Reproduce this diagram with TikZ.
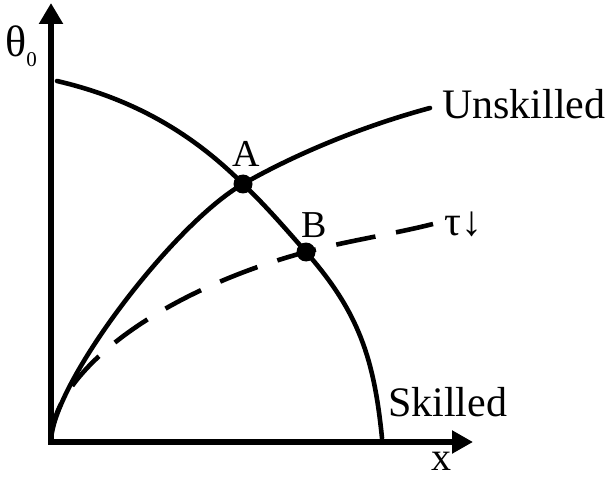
\documentclass[tikz,border=0pt]{standalone}
\usepackage{fontspec}
\setmainfont{Liberation Serif}
\usetikzlibrary{arrows.meta}
\begin{document}
\begin{tikzpicture}[x=1pt,y=-1pt,
  curve/.style={line width=4.6pt,line cap=round},
  axis/.style={line width=6pt,line join=miter},
  dot/.style={circle,fill=black,inner sep=0pt,minimum size=19pt},
  lbl/.style={inner sep=0pt,anchor=base west,font=\fontsize{42}{42}\selectfont},
  pt/.style={inner sep=0pt,anchor=base,font=\fontsize{38}{38}\selectfont}]
\useasboundingbox (0,0) rectangle (610,481);
% axes
\coordinate (O) at (51,442);
\coordinate (ytip) at (51,3);
\coordinate (xtip) at (473,442);
\draw[axis,{Triangle[length=21pt,width=23pt]}-{Triangle[length=21pt,width=22pt]}] (ytip) -- (O) -- (xtip);
% intersection points and curve ends
\coordinate (pA) at (243,184);
\coordinate (pB) at (306,252);
\coordinate (S0) at (57,81);
\coordinate (S1) at (382,438);
\coordinate (U1) at (430,108);
\coordinate (D1) at (433,224);
% skilled curve
\draw[curve] (S0) .. controls (130,98) and (190,131) .. (pA)
  .. controls (265.5,205.4) and (285.5,228.7) .. (pB)
  .. controls (358.8,312) and (374,358.4) .. (S1);
% unskilled curve
\draw[curve] (O) .. controls (51,385) and (173.6,223.6) .. (pA)
  .. controls (299.4,151.8) and (367.3,124.9) .. (U1);
% dashed curve
\draw[curve,line cap=butt,dash pattern=on 40pt off 21pt] (O) .. controls (51,372) and (161.25,291) .. (pB)
  .. controls (346.5,241) and (392,234.3) .. (D1);
\node[dot] (A) at (pA) {};
\node[dot] (B) at (pB) {};
% labels
\node[pt] (la) at (246,167) {A};
\node[pt] (lb) at (314,237) {B};
\node[lbl] (lu) at (442,119) {Unskilled};
\node[lbl] (ls) at (388,416) {Skilled};
\node[lbl] (lt) at (444,235) {τ↓};
\node[inner sep=0pt,anchor=base,text depth=0pt] (lx) at (441,470) {\fontsize{40}{40}\selectfont x};
\node[inner sep=0pt,anchor=base west] (lth) at (5,57) {\fontsize{44}{44}\selectfont θ\raisebox{-10pt}{\fontsize{21}{21}\selectfont 0}};
\end{tikzpicture}
\end{document}
